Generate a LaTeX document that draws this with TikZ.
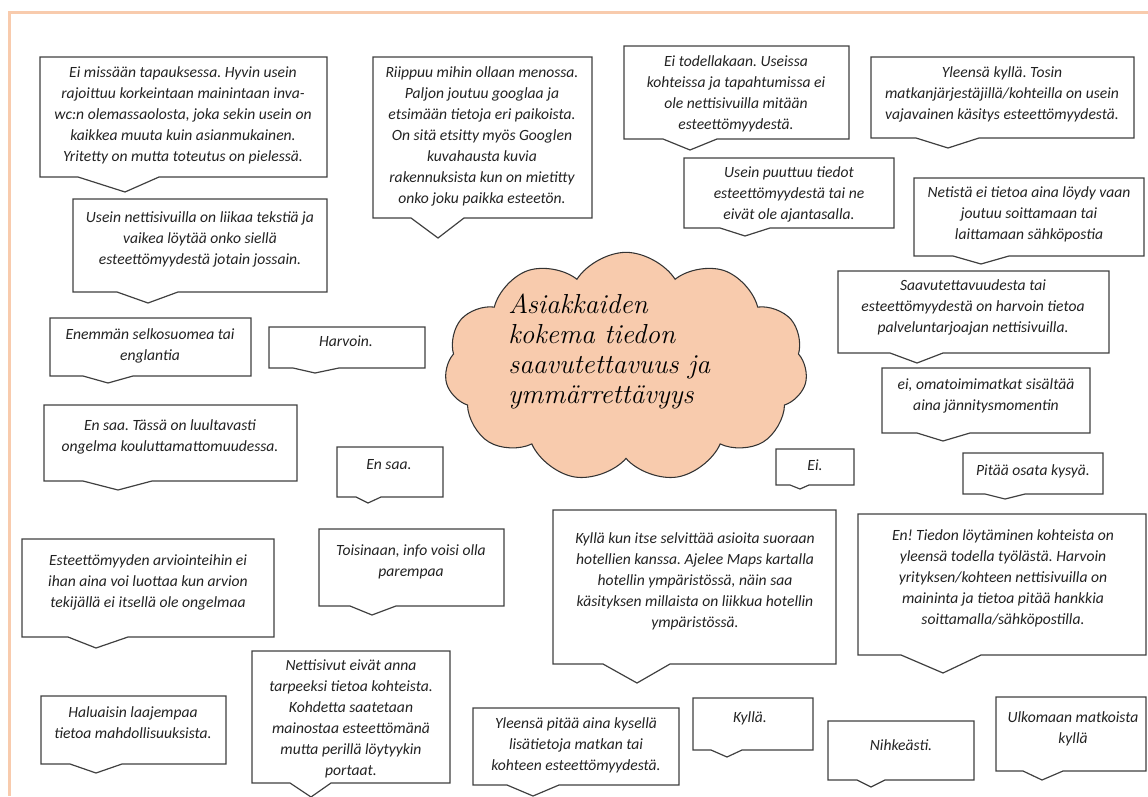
\documentclass[tikz,border=0pt]{standalone}
\usepackage{fontspec}
\newfontfamily\calib{Carlito}
\usetikzlibrary{shapes.symbols}
\definecolor{peach}{HTML}{F8CBAD}
\definecolor{edgegray}{HTML}{404040}
\definecolor{txtgray}{HTML}{222222}
\tikzset{
  cbox/.style={draw=edgegray, line width=0.9pt, fill=white, line join=miter},
  ctext/.style={anchor=north, inner sep=0pt, align=center, text=txtgray,
    font=\calib\itshape\fontsize{11.7}{15.75}\selectfont},
  cloudtext/.style={anchor=north west, inner sep=0pt, align=left, text=black,
    font=\itshape\fontsize{20.6}{22.5}\selectfont},
  frameline/.style={draw=peach, line width=2.25pt}
}
\frenchspacing
\begin{document}
\begin{tikzpicture}[x=0.75pt,y=-0.75pt]
\useasboundingbox (0,0) rectangle (1148,796);
\draw[frameline] (9,796) -- (9,12) -- (1148,12);

% cloud
\node[cloud, cloud puffs=11, cloud puff arc=115, cloud ignores aspect, draw=black!80, line width=0.8pt, fill=peach,
  minimum width=272pt, minimum height=172pt, inner sep=0pt] (cl) at (626,367) {};
\node[cloudtext] (title) at (508,292) {\strut Asiakkaiden\\ kokema tiedon\\ saavutettavuus ja\\ ymmärrettävyys};

% B1
\draw[cbox] (40,57) -- (327,57) -- (327,177) -- (159,177) -- (125,192) -- (78,177) -- (40,177) -- cycle;
\node[ctext] (b1) at (183,63) {\strut Ei missään tapauksessa. Hyvin usein\\ rajoittuu korkeintaan mainintaan inva-\\ wc:n olemassaolosta, joka sekin usein on\\ kaikkea muuta kuin asianmukainen.\\ Yritetty on mutta toteutus on pielessä.};
% B2
\draw[cbox] (73,199) -- (327,199) -- (327,292) -- (178,292) -- (148,303) -- (117,292) -- (73,292) -- cycle;
\node[ctext] (b2) at (200,208) {\strut Usein nettisivuilla on liikaa tekstiä ja\\ vaikea löytää onko siellä\\ esteettömyydestä jotain jossain.};
% B3
\draw[cbox] (373,57) -- (592,57) -- (592,218) -- (464,218) -- (438,238) -- (411,218) -- (373,218) -- cycle;
\node[ctext] (b3) at (482,63) {\strut Riippuu mihin ollaan menossa.\\ Paljon joutuu googlaa ja\\ etsimään tietoja eri paikoista.\\ On sitä etsitty myös Googlen\\ kuvahausta kuvia\\ rakennuksista kun on mietitty\\ onko joku paikka esteetön.};
% B4
\draw[cbox] (624,46) -- (849,46) -- (849,139) -- (717,139) -- (690,150) -- (663,139) -- (624,139) -- cycle;
\node[ctext] (b4) at (736,52) {\strut Ei todellakaan. Useissa\\ kohteissa ja tapahtumissa ei\\ ole nettisivuilla mitään\\ esteettömyydestä.};
% B5
\draw[cbox] (871,57) -- (1134,57) -- (1134,138) -- (979,138) -- (948,148) -- (916,138) -- (871,138) -- cycle;
\node[ctext] (b5) at (1002,63) {\strut Yleensä kyllä. Tosin\\ matkanjärjestäjillä/kohteilla on usein\\ vajavainen käsitys esteettömyydestä.};
% B6
\draw[cbox] (684,158) -- (894,158) -- (894,228) -- (770,228) -- (745,236) -- (720,228) -- (684,228) -- cycle;
\node[ctext] (b6) at (789,163) {\strut Usein puuttuu tiedot\\ esteettömyydestä tai ne\\ eivät ole ajantasalla.};
% B7
\draw[cbox] (914,178) -- (1144,178) -- (1144,256) -- (1009,256) -- (981,264) -- (953,256) -- (914,256) -- cycle;
\node[ctext] (b7) at (1029,183) {\strut Netistä ei tietoa aina löydy vaan\\ joutuu soittamaan tai\\ laittamaan sähköpostia};
% B8
\draw[cbox] (838,271) -- (1109,271) -- (1109,353) -- (943,353) -- (917,363) -- (890,353) -- (838,353) -- cycle;
\node[ctext] (b8) at (973,276) {\strut Saavutettavuudesta tai\\ esteettömyydestä on harvoin tietoa\\ palveluntarjoajan nettisivuilla.};
% B9
\draw[cbox] (882,368) -- (1090,368) -- (1090,433) -- (970,433) -- (943,441) -- (917,433) -- (882,433) -- cycle;
\node[ctext] (b9) at (986,375) {\strut ei, omatoimimatkat sisältää\\ aina jännitysmomentin};
% B10
\draw[cbox] (963,453) -- (1103,453) -- (1103,494) -- (1025,494) -- (1005,499) -- (985,494) -- (963,494) -- cycle;
\node[ctext] (b10) at (1033,461) {\strut Pitää osata kysyä.};
% B11
\draw[cbox] (776,449) -- (854,449) -- (854,485) -- (809,485) -- (800,489) -- (790,485) -- (776,485) -- cycle;
\node[ctext] (b11) at (815,456) {\strut Ei.};
% B12
\draw[cbox] (553,510) -- (836,510) -- (836,664) -- (670,664) -- (637,683) -- (603,664) -- (553,664) -- cycle;
\node[ctext] (b12) at (695,529) {\strut Kyllä kun itse selvittää asioita suoraan\\ hotellien kanssa. Ajelee Maps kartalla\\ hotellin ympäristössä, näin saa\\ käsityksen millaista on liikkua hotellin\\ ympäristössä.};
% B13
\draw[cbox] (858,514) -- (1146,514) -- (1146,655) -- (981,655) -- (943,673) -- (901,655) -- (858,655) -- cycle;
\node[ctext] (b13) at (1003,526) {\strut En! Tiedon löytäminen kohteista on\\ yleensä todella työlästä. Harvoin\\ yrityksen/kohteen nettisivuilla on\\ maininta ja tietoa pitää hankkia\\ soittamalla/sähköpostilla.};
% B14
\draw[cbox] (693,698) -- (813,698) -- (813,750) -- (742,750) -- (727,757) -- (711,750) -- (693,750) -- cycle;
\node[ctext] (b14) at (750,708) {\strut Kyllä.};
% B15
\draw[cbox] (828,721) -- (974,721) -- (974,780) -- (885,780) -- (871,787) -- (857,780) -- (828,780) -- cycle;
\node[ctext] (b15) at (901,736) {\strut Nihkeästi.};
% B16
\draw[cbox] (996,697) -- (1146,697) -- (1146,771) -- (1063,771) -- (1042,780) -- (1023,771) -- (996,771) -- cycle;
\node[ctext] (b16) at (1073,708) {\strut Ulkomaan matkoista\\ kyllä};
% B17
\draw[cbox] (473,708) -- (679,708) -- (679,785) -- (559,785) -- (533,796) -- (507,785) -- (473,785) -- cycle;
\node[ctext] (b17) at (576,714) {\strut Yleensä pitää aina kysellä\\ lisätietoja matkan tai\\ kohteen esteettömyydestä.};
% B18
\draw[cbox] (252,651) -- (450,651) -- (450,783) -- (331,783) -- (311,797) -- (290,783) -- (252,783) -- cycle;
\node[ctext] (b18) at (351,656) {\strut Nettisivut eivät anna\\ tarpeeksi tietoa kohteista.\\ Kohdetta saatetaan\\ mainostaa esteettömänä\\ mutta perillä löytyykin\\ portaat.};
% B19
\draw[cbox] (41,696) -- (226,696) -- (226,764) -- (122,764) -- (96,773) -- (70,764) -- (41,764) -- cycle;
\node[ctext] (b19) at (133,703) {\strut Haluaisin laajempaa\\ tietoa mahdollisuuksista.};
% B20
\draw[cbox] (22,539) -- (274,539) -- (274,637) -- (128,637) -- (96,648) -- (68,637) -- (22,637) -- cycle;
\node[ctext] (b20) at (148,551) {\strut Esteettömyyden arviointeihin ei\\ ihan aina voi luottaa kun arvion\\ tekijällä ei itsellä ole ongelmaa};
% B21
\draw[cbox] (319,529) -- (504,529) -- (504,606) -- (396,606) -- (372,615) -- (350,606) -- (319,606) -- cycle;
\node[ctext] (b21) at (411,541) {\strut Toisinaan, info voisi olla\\ parempaa};
% B22
\draw[cbox] (50,318) -- (251,318) -- (251,376) -- (133,376) -- (108,383) -- (83,376) -- (50,376) -- cycle;
\node[ctext] (b22) at (150,325) {\strut Enemmän selkosuomea tai\\ englantia};
% B23
\draw[cbox] (269,327) -- (425,327) -- (425,368) -- (339,368) -- (315,373) -- (293,368) -- (269,368) -- cycle;
\node[ctext] (b23) at (346,332) {\strut Harvoin.};
% B24
\draw[cbox] (44,405) -- (297,405) -- (297,481) -- (152,481) -- (118,490) -- (83,481) -- (44,481) -- cycle;
\node[ctext] (b24) at (170,416) {\strut En saa. Tässä on luultavasti\\ ongelma kouluttamattomuudessa.};
% B25
\draw[cbox] (337,447) -- (443,447) -- (443,497) -- (381,497) -- (368,503) -- (356,497) -- (337,497) -- cycle;
\node[ctext] (b25) at (389,455) {\strut En saa.};
\end{tikzpicture}
\end{document}
